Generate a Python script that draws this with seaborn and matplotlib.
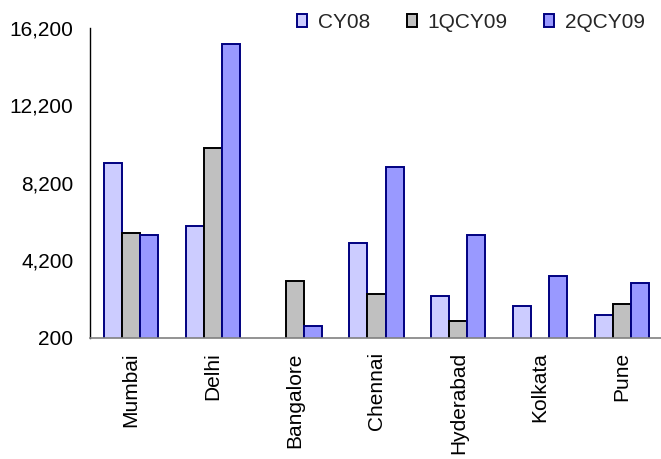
import numpy as np
import pandas as pd
import seaborn as sns
import matplotlib
matplotlib.use("Agg")
import matplotlib.pyplot as plt
from matplotlib.ticker import FuncFormatter

# City-wise absorption by period
cities = ["Mumbai", "Delhi", "Bangalore", "Chennai", "Hyderabad", "Kolkata", "Pune"]
periods = ["CY08", "1QCY09", "2QCY09"]
cy08 = [9200, 5950, np.nan, 5100, 2350, 1850, 1350]
q1cy09 = [5600, 10000, 3150, 2450, 1050, np.nan, 1950]
q2cy09 = [5500, 15350, 800, 9000, 5500, 3400, 3000]
y_ticks = [200, 4200, 8200, 12200, 16200]

fill_colors = ["#CCCCFF", "#C0C0C0", "#9999FF"]
edge_colors = ["#000080", "#000000", "#000080"]

df = pd.DataFrame({
    "city": cities * 3,
    "period": [p for p in periods for _ in cities],
    "value": cy08 + q1cy09 + q2cy09,
})

sns.set_style("white")
plt.rcParams["font.family"] = ["Liberation Sans", "DejaVu Sans"]

fig = plt.figure(figsize=(6.61, 4.59), dpi=100)
ax = fig.add_axes([90 / 661, (459 - 337.7) / 459, 573 / 661, 310 / 459])

sns.barplot(data=df, x="city", y="value", hue="period", order=cities,
            hue_order=periods, palette=fill_colors, saturation=1,
            width=0.66, gap=0, legend=False, ax=ax)

for container, ec in zip(ax.containers, edge_colors):
    for bar in container:
        bar.set_edgecolor(ec)
        bar.set_linewidth(1.4)

ax.set_xlim(-0.5, len(cities) - 0.5)
ax.set_ylim(y_ticks[0], y_ticks[-1])
ax.set_yticks(y_ticks)
ax.yaxis.set_major_formatter(FuncFormatter(lambda v, _: f"{int(v):,}"))
ax.set_xlabel("")
ax.set_ylabel("")

ax.tick_params(axis="y", length=0, pad=12, labelsize=15, labelcolor="black")
ax.tick_params(axis="x", length=0, pad=10.5, labelsize=15, labelcolor="black",
               rotation=90)

for side in ["top", "right"]:
    ax.spines[side].set_visible(False)
ax.spines["left"].set_color("black")
ax.spines["left"].set_linewidth(1.0)
ax.spines["bottom"].set_color("#808080")
ax.spines["bottom"].set_linewidth(1.2)

fig.legend(ax.containers, periods, loc="center left",
           bbox_to_anchor=(297 / 661, 1 - 22.5 / 459), ncol=3, frameon=False,
           fontsize=15, handlelength=0.5, handleheight=0.55,
           handletextpad=0.5, columnspacing=1.75, borderpad=0,
           borderaxespad=0)

fig.savefig("out.png", dpi=100)
